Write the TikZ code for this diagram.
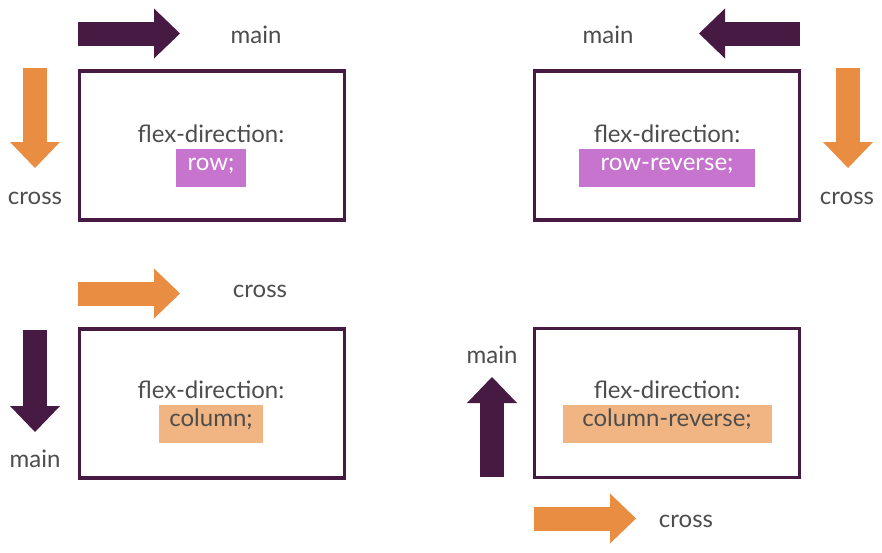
\documentclass[tikz,border=0pt]{standalone}
\usepackage{fontspec}
\setmainfont{Lato}
\usepackage{tikz}
\usetikzlibrary{arrows.meta,positioning}
\usepackage{xcolor}
\definecolor{axisplum}{RGB}{70,26,66}
\definecolor{axisorange}{RGB}{233,141,67}
\definecolor{rowpink}{RGB}{199,116,207}
\definecolor{colpeach}{RGB}{240,181,131}
\definecolor{lblgrey}{RGB}{77,77,77}
\newcommand{\lblfont}{\fontsize{24}{28}\selectfont}
\tikzset{
  flexbox/.style={draw=axisplum,line width=3.5pt,minimum width=265pt,
                  minimum height=149pt,inner sep=0pt},
  proplbl/.style={anchor=base,text=lblgrey,inner sep=0pt},
  valbox/.style={minimum height=38pt,inner xsep=12pt,inner ysep=0pt,
                 text height=.72em,text depth=.2em},
  rowval/.style={valbox,fill=rowpink,text=white},
  colval/.style={valbox,fill=colpeach,text=lblgrey},
  axislbl/.style={anchor=base,text=lblgrey,inner sep=0pt},
  blockarr/.style={line width=24pt,
                   -{Triangle[length=26pt,width=50pt,line width=0pt]}},
  mainarr/.style={blockarr,draw=axisplum},
  crossarr/.style={blockarr,draw=axisorange},
}
\begin{document}
\begin{tikzpicture}[x=1pt,y=-1pt,font=\lblfont]
  \useasboundingbox (0,0) rectangle (882,552);
  % --- panel 1 : row
  \node[flexbox] (box1) at (212,145.5) {};
  \node[proplbl] (prop1) at (211,142) {flex-direction:};
  \node[rowval] (val1) at (211,167.5) {row;};
  \coordinate (m1s) at (78,33.5);  \coordinate (m1e) at (180,33.5);
  \coordinate (c1s) at (35,68);    \coordinate (c1e) at (35,168);
  \draw[mainarr] (m1s) -- (m1e);
  \draw[crossarr] (c1s) -- (c1e);
  \node[axislbl] (m1l) at (256,43) {main};
  \node[axislbl] (c1l) at (35,204) {cross};
  % --- panel 2 : row-reverse
  \node[flexbox] (box2) at (667,145.5) {};
  \node[proplbl] (prop2) at (667,142) {flex-direction:};
  \node[rowval,minimum width=176pt] (val2) at (667,167.5) {row-reverse;};
  \coordinate (m2s) at (800,33.5); \coordinate (m2e) at (699,33.5);
  \coordinate (c2s) at (848,68);   \coordinate (c2e) at (848,168);
  \draw[mainarr] (m2s) -- (m2e);
  \draw[crossarr] (c2s) -- (c2e);
  \node[axislbl] (m2l) at (608,43) {main};
  \node[axislbl] (c2l) at (847,204) {cross};
  % --- panel 3 : column
  \node[flexbox] (box3) at (212,403.5) {};
  \node[proplbl] (prop3) at (211,398) {flex-direction:};
  \node[colval,minimum width=104pt,inner xsep=10pt] (val3) at (211,424) {column;};
  \coordinate (c3s) at (78,293.5); \coordinate (c3e) at (180,293.5);
  \coordinate (m3s) at (35,330);   \coordinate (m3e) at (35,432);
  \draw[crossarr] (c3s) -- (c3e);
  \draw[mainarr] (m3s) -- (m3e);
  \node[axislbl] (c3l) at (260,297) {cross};
  \node[axislbl] (m3l) at (35,467) {main};
  % --- panel 4 : column-reverse
  \node[flexbox] (box4) at (667,403) {};
  \node[proplbl] (prop4) at (667,398) {flex-direction:};
  \node[colval,minimum width=209pt] (val4) at (667,424) {column-reverse;};
  \coordinate (m4s) at (492,477);  \coordinate (m4e) at (492,377);
  \coordinate (c4s) at (534,518.5); \coordinate (c4e) at (636,518.5);
  \draw[mainarr] (m4s) -- (m4e);
  \draw[crossarr] (c4s) -- (c4e);
  \node[axislbl] (m4l) at (492,363) {main};
  \node[axislbl] (c4l) at (686,527) {cross};
\end{tikzpicture}
\end{document}
